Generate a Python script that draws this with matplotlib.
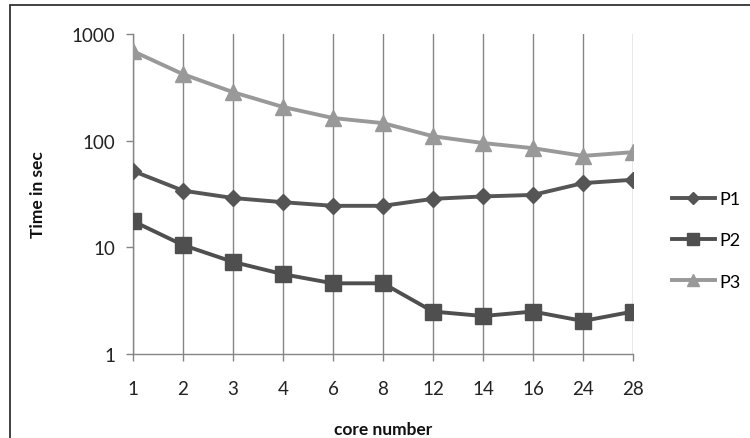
import matplotlib.pyplot as plt
import matplotlib.patches as patches
import numpy as np

plt.rcParams['font.family'] = ['Lato', 'DejaVu Sans']

# data
cores = ["1", "2", "3", "4", "6", "8", "12", "14", "16", "24", "28"]
p1 = [52, 34, 29, 26.5, 24.5, 24.5, 28.5, 30, 31, 40, 43]
p2 = [17.6, 10.5, 7.3, 5.6, 4.6, 4.6, 2.5, 2.27, 2.5, 2.04, 2.5]
p3 = [690, 420, 285, 207, 163, 146, 110, 95, 85, 72, 78]

fig = plt.figure(figsize=(7.5, 4.39), dpi=100)
ax = fig.add_axes([133/750, 1 - 355/439, 500/750, 320/439])

x = np.arange(len(cores))
grid_col = '#858585'

ax.plot(x, p1, color='#555555', lw=2.8, marker='D', ms=8, label='P1', zorder=3)
ax.plot(x, p2, color='#4f4f4f', lw=2.8, marker='s', ms=11, label='P2', zorder=3)
ax.plot(x, p3, color='#999999', lw=2.8, marker='^', ms=11, label='P3', zorder=3)

ax.set_yscale('log')
ax.set_ylim(1, 1000)
ax.set_xlim(0, len(cores) - 1)
ax.set_yticks([1, 10, 100, 1000])
ax.set_yticklabels(['1', '10', '100', '1000'])
ax.minorticks_off()
ax.set_xticks(x)
ax.set_xticklabels(cores)

for xi in x:
    ax.axvline(xi, color=grid_col, lw=1, zorder=1)

for s in ['top', 'right']:
    ax.spines[s].set_visible(False)
for s in ['left', 'bottom']:
    ax.spines[s].set_color(grid_col)
    ax.spines[s].set_linewidth(1)
ax.tick_params(axis='both', colors=grid_col, labelcolor='#222222',
               labelsize=13.5, length=5, width=1)
ax.tick_params(axis='x', pad=14)
ax.tick_params(axis='y', pad=8)

ax.set_ylabel('Time in sec', fontsize=12.5, fontweight='bold', labelpad=18, color='#111111')
ax.set_xlabel('core number', fontsize=12.5, fontweight='bold', labelpad=17, color='#111111')

ax.legend(loc='center left', bbox_to_anchor=(1.045, 0.355), frameon=False,
          fontsize=13, handlelength=2.4, labelspacing=1.4, handletextpad=0.25,
          markerscale=0.8)

fig.patches.append(patches.Rectangle((10/750, -0.05), 1.0, 1 - 6/439 + 0.05,
                                     transform=fig.transFigure, fill=False,
                                     edgecolor='#333333', lw=1.3))

fig.savefig('out.png', dpi=100)
